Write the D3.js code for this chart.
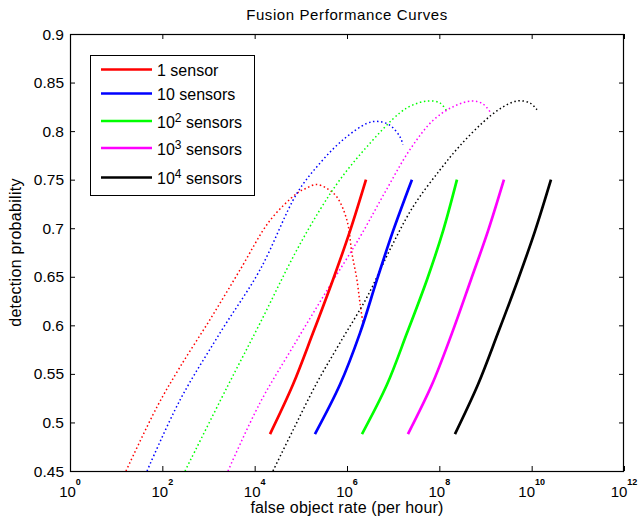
<!DOCTYPE html>
<html><head><meta charset="utf-8">
<script src="https://cdn.jsdelivr.net/npm/d3@7"></script>
<style>
body{margin:0;background:#fff}
svg{display:block}
text{font-family:"Liberation Sans",Arial,Helvetica,sans-serif;fill:#000}
</style>
</head><body>
<svg id="chart" width="639" height="523"></svg>
<script>
// ---------- data ----------
const chartTitle = "Fusion Performance Curves";
const xLabel = "false object rate (per hour)";
const yLabel = "detection probability";

const xTickValues = [1e0, 1e2, 1e4, 1e6, 1e8, 1e10, 1e12];
const xTickExponents = ["0", "2", "4", "6", "8", "10", "12"];
const yTickValues = [0.45, 0.5, 0.55, 0.6, 0.65, 0.7, 0.75, 0.8, 0.85, 0.9];
const yTickLabels = ["0.45", "0.5", "0.55", "0.6", "0.65", "0.7", "0.75", "0.8", "0.85", "0.9"];

const seriesBase = ["1", "10", "10", "10", "10"];
const seriesExp = ["", "", "2", "3", "4"];
const seriesSuffix = [" sensor", " sensors", " sensors", " sensors", " sensors"];
const seriesColors = ["#ff0000", "#0000ff", "#00ff00", "#ff00ff", "#000000"];

// solid curves (detection probability shared)
const solidProb = [0.488, 0.539, 0.592, 0.647, 0.697, 0.750];
const solidRate1 = [2.15e4, 6.76e4, 1.83e5, 4.97e5, 1.16e6, 2.58e6];
const solidRate10 = [2.02e5, 7.05e5, 1.91e6, 4.46e6, 9.91e6, 2.55e7];
const solidRate100 = [2.11e6, 7.35e6, 1.99e7, 5.40e7, 1.20e8, 2.41e8];
const solidRate1000 = [2.09e7, 6.93e7, 1.88e8, 4.84e8, 1.13e9, 2.51e9];
const solidRate10000 = [2.18e8, 6.87e8, 1.86e9, 5.05e9, 1.18e10, 2.62e10];

// dotted curves
const dotRate1 = [16.3, 76.6, 241, 1.08e3, 4.81e3, 2.15e4, 8.26e4, 1.29e5, 2.13e5, 3.68e5, 6.07e5, 1.0e6, 1.28e6, 1.64e6, 1.91e6, 2.22e6];
const dotProb1 = [0.450, 0.516, 0.557, 0.606, 0.657, 0.708, 0.736, 0.741, 0.745, 0.741, 0.732, 0.708, 0.674, 0.647, 0.623, 0.602];
const dotRate10 = [46.6, 241, 1.77e3, 1.30e4, 8.26e4, 2.60e5, 8.18e5, 2.71e6, 4.69e6, 8.53e6, 1.41e7, 1.63e7];
const dotProb10 = [0.450, 0.523, 0.592, 0.657, 0.736, 0.767, 0.791, 0.808, 0.810, 0.806, 0.794, 0.786];
const dotRate100 = [310, 2.51e3, 1.30e4, 7.46e4, 2.60e5, 7.05e5, 2.71e6, 1.41e7, 2.69e7, 5.40e7, 1.03e8, 1.47e8];
const dotProb100 = [0.450, 0.536, 0.602, 0.674, 0.719, 0.750, 0.784, 0.819, 0.827, 0.831, 0.829, 0.820];
const dotRate1000 = [2.64e3, 1.30e4, 6.76e4, 3.68e5, 1.91e6, 6.65e6, 2.31e7, 7.28e7, 1.97e8, 5.09e8, 8.81e8, 1.25e9];
const dotProb1000 = [0.450, 0.520, 0.578, 0.636, 0.691, 0.737, 0.781, 0.811, 0.825, 0.831, 0.828, 0.820];
const dotRate10000 = [2.49e4, 6.76e4, 2.24e5, 7.05e5, 2.71e6, 8.53e6, 2.69e7, 1.03e8, 2.80e8, 8.81e8, 2.06e9, 4.81e9, 9.18e9, 1.30e10];
const dotProb10000 = [0.450, 0.492, 0.541, 0.582, 0.629, 0.678, 0.722, 0.760, 0.785, 0.809, 0.823, 0.831, 0.829, 0.822];

// ---------- build ----------
const solidRates = [solidRate1, solidRate10, solidRate100, solidRate1000, solidRate10000];
const dotRates = [dotRate1, dotRate10, dotRate100, dotRate1000, dotRate10000];
const dotProbs = [dotProb1, dotProb10, dotProb100, dotProb1000, dotProb10000];

const svg = d3.select("#chart");
const L = 70, T = 34, R = 624, B = 471;
const x = d3.scaleLog().domain([1, 1e12]).range([L, R]);
const y = d3.scaleLinear().domain([0.45, 0.9]).range([B, T]);

svg.append("rect").attr("width", 639).attr("height", 523).attr("fill", "#fff");

svg.append("defs").append("clipPath").attr("id", "clip")
  .append("rect").attr("x", L).attr("y", T).attr("width", R - L).attr("height", B - T);

const plot = svg.append("g").attr("clip-path", "url(#clip)");
const line = d3.line().x(d => x(d[0])).y(d => y(d[1])).curve(d3.curveCatmullRom.alpha(0.5));

// dotted curves
dotRates.forEach((rates, i) => {
  const pts = rates.map((r, k) => [r, dotProbs[i][k]]);
  plot.append("path").attr("d", line(pts))
    .attr("fill", "none").attr("stroke", seriesColors[i])
    .attr("stroke-width", 1.5).attr("stroke-dasharray", "1.5,2.6");
});
// solid curves
solidRates.forEach((rates, i) => {
  const pts = rates.map((r, k) => [r, solidProb[k]]);
  plot.append("path").attr("d", line(pts))
    .attr("fill", "none").attr("stroke", seriesColors[i])
    .attr("stroke-width", 2.7);
});

// axes
const xAxis = d3.axisBottom(x).tickValues(xTickValues).tickSize(-5).tickSizeOuter(0).tickFormat(() => "");
svg.append("g").attr("transform", `translate(0,${B})`).call(xAxis);
const xAxisTop = d3.axisTop(x).tickValues(xTickValues).tickSize(-5).tickSizeOuter(0).tickFormat(() => "");
svg.append("g").attr("transform", `translate(0,${T})`).call(xAxisTop);
const yAxis = d3.axisLeft(y).tickValues(yTickValues).tickSize(-5).tickSizeOuter(0).tickFormat(() => "");
svg.append("g").attr("transform", `translate(${L},0)`).call(yAxis);
const yAxisR = d3.axisRight(y).tickValues(yTickValues).tickSize(-5).tickSizeOuter(0).tickFormat(() => "");
svg.append("g").attr("transform", `translate(${R},0)`).call(yAxisR);
svg.selectAll(".domain").attr("stroke", "none");
svg.selectAll(".tick line").attr("stroke", "#000").attr("stroke-width", 1);

svg.append("rect").attr("x", L + 0.5).attr("y", T + 0.5).attr("width", R - L - 1).attr("height", B - T)
  .attr("fill", "none").attr("stroke", "#000").attr("stroke-width", 1.2);

// x tick labels: 10^n
xTickValues.forEach((v, i) => {
  const t = svg.append("text").attr("x", x(v)).attr("y", 497)
    .attr("text-anchor", "middle").attr("font-size", 15);
  t.append("tspan").text("10");
  t.append("tspan").attr("dy", -12).attr("font-size", 9).attr("font-weight", "bold").text(xTickExponents[i]);
});
// y tick labels
yTickValues.forEach((v, i) => {
  svg.append("text").attr("x", 64).attr("y", y(v)).attr("dy", "0.36em")
    .attr("text-anchor", "end").attr("font-size", 15.5).text(yTickLabels[i]);
});

// titles
svg.append("text").attr("x", (L + R) / 2).attr("y", 20).attr("text-anchor", "middle")
  .attr("font-size", 15).attr("letter-spacing", 0.6).text(chartTitle);
svg.append("text").attr("x", (L + R) / 2).attr("y", 513).attr("text-anchor", "middle")
  .attr("font-size", 16).attr("letter-spacing", 0.2).text(xLabel);
svg.append("text").attr("transform", `translate(21,${(T + B) / 2}) rotate(-90)`)
  .attr("text-anchor", "middle").attr("font-size", 16).attr("letter-spacing", 0.3).text(yLabel);

// legend
const legendRowY = [69.5, 93.5, 121, 148, 177.5];
svg.append("rect").attr("x", 90.5).attr("y", 55.5).attr("width", 164).attr("height", 140)
  .attr("fill", "#fff").attr("stroke", "#000").attr("stroke-width", 1);
seriesBase.forEach((b, i) => {
  const ly = legendRowY[i];
  svg.append("line").attr("x1", 101).attr("x2", 152).attr("y1", ly).attr("y2", ly)
    .attr("stroke", seriesColors[i]).attr("stroke-width", 2.4);
  const t = svg.append("text").attr("x", 157).attr("y", ly + 6.5).attr("font-size", 16);
  t.append("tspan").text(b);
  if (seriesExp[i]) {
    t.append("tspan").attr("dy", -6).attr("font-size", 12).text(seriesExp[i]);
    t.append("tspan").attr("dy", 6).text(seriesSuffix[i]);
  } else {
    t.append("tspan").text(seriesSuffix[i]);
  }
});
</script>
</body></html>
